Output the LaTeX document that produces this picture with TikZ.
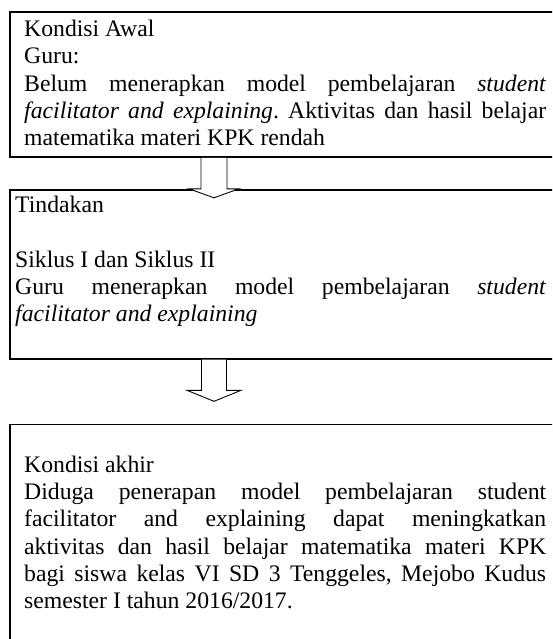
\documentclass[tikz,border=0pt]{standalone}
\usepackage{fontspec}
\setmainfont{Liberation Serif}
\usetikzlibrary{calc, positioning}
\setlength{\parindent}{0pt}
\frenchspacing
\newcommand{\bodyfont}{\fontsize{23.7}{27.3}\selectfont\hyphenpenalty=10000\exhyphenpenalty=10000}
\tikzstyle{box} = [rectangle, draw=black, line width=1.8pt, minimum width=560pt, inner sep=0pt]
\tikzstyle{boxtext} = [inner sep=0pt, text width=522pt, align=justify, font=\bodyfont]
\tikzstyle{blockarrow} = [draw=black, fill=white, line width=0.9pt, line join=miter]

\begin{document}
\begin{tikzpicture}[x=1pt, y=1pt]
	\useasboundingbox (0,0) rectangle (552,-639);
	\clip (0,0) rectangle (552,-639);
	\fill[white] (0,0) rectangle (552,-639);

	% Boxes
	\node (awal) [box, anchor=north west, minimum height=145pt] at (9,-11) {};
	\node (tindakan) [box, below=31pt of awal.south west, anchor=north west, minimum height=169pt] {};
	\node (akhir) [box, below=64pt of tindakan.south west, anchor=north west, minimum height=240pt] {};

	% Texts
	\node (awaltext) [boxtext, below right=9pt and 15pt of awal.north west] {Kondisi Awal\par
		Guru:\par
		Belum menerapkan model pembelajaran \textit{student}\linebreak
		\textit{facilitator and explaining}. Aktivitas dan hasil belajar\linebreak
		matematika materi KPK rendah};
	\node (tindakantext) [boxtext, text width=531pt, below right=7pt and 6pt of tindakan.north west] {Tindakan\par
		\mbox{}\par
		Siklus I dan Siklus II\par
		Guru menerapkan model pembelajaran \textit{student}\linebreak
		\textit{facilitator and explaining}};
	\node (akhirtext) [boxtext, below right=32pt and 15pt of akhir.north west] {Kondisi akhir\par
		Diduga penerapan model pembelajaran student\linebreak
		facilitator and explaining dapat meningkatkan\linebreak
		aktivitas dan hasil belajar matematika materi KPK\linebreak
		bagi siswa kelas VI SD 3 Tenggeles, Mejobo Kudus\linebreak
		semester I tahun 2016/2017.};

	% Arrow awal -> tindakan
	\coordinate (a1) at ($(awal.south west)+(205,0)$);
	\coordinate (b1) at (a1 |- tindakan.north);
	\draw [blockarrow] ($(a1)+(-13,0)$) -- ($(b1)+(-13,0)$) -- ($(b1)+(-25,0)$) -- ($(b1)+(0,-9)$) -- ($(b1)+(25,0)$) -- ($(b1)+(13,0)$) -- ($(a1)+(13,0)$);

	% Arrow tindakan -> akhir
	\coordinate (a2) at ($(tindakan.south west)+(205,0)$);
	\coordinate (b2) at ($(a2)!0.48!(a2 |- akhir.north)$);
	\draw [blockarrow] ($(a2)+(-12.5,0)$) -- ($(b2)+(-12.5,0)$) -- ($(b2)+(-27,0)$) -- ($(b2)+(0,-11)$) -- ($(b2)+(27,0)$) -- ($(b2)+(12.5,0)$) -- ($(a2)+(12.5,0)$);

\end{tikzpicture}
\end{document}
